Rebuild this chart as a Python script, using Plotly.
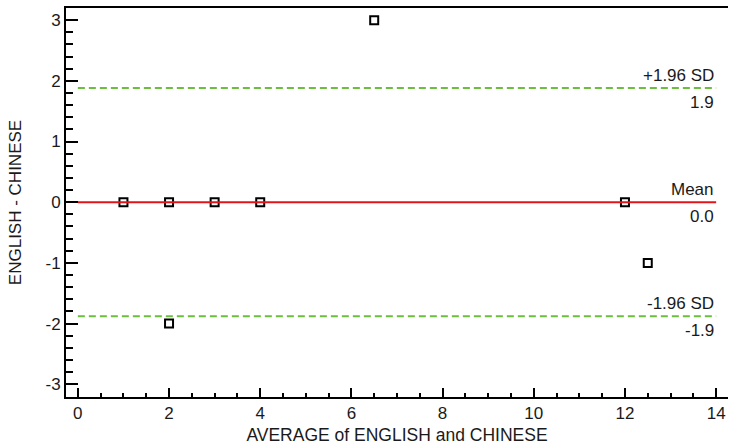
import plotly.graph_objects as go

avg = [1, 2, 3, 4, 2, 6.5, 12, 12.5]
diff = [0, 0, 0, 0, -2, 3, 0, -1]
mean_diff = 0.0
upper = 1.88
lower = -1.88
x_line = [0, 14]
y_tick_vals = [-3, -2, -1, 0, 1, 2, 3]
y_tick_text = ["-3", "-2", "-1", "0", "1", "2", "3"]
x_tick_vals = [0, 2, 4, 6, 8, 10, 12, 14]

fig = go.Figure()
fig.add_trace(go.Scatter(x=avg, y=diff, mode="markers",
                         marker=dict(symbol="square", size=8, color="white",
                                     line=dict(color="black", width=2)),
                         showlegend=False, cliponaxis=False))
fig.add_trace(go.Scatter(x=x_line, y=[mean_diff, mean_diff], mode="lines",
                         line=dict(color="#e3141c", width=2), showlegend=False))
fig.add_trace(go.Scatter(x=x_line, y=[upper, upper], mode="lines",
                         line=dict(color="#6cbf3c", width=2, dash="7px,4px"), showlegend=False))
fig.add_trace(go.Scatter(x=x_line, y=[lower, lower], mode="lines",
                         line=dict(color="#6cbf3c", width=2, dash="7px,4px"), showlegend=False))

font = "Liberation Sans, Arial, sans-serif"
ann = [("+1.96 SD", upper, "bottom"), ("1.9", upper, "top"),
       ("Mean", mean_diff, "bottom"), ("0.0", mean_diff, "top"),
       ("-1.96 SD", lower, "bottom"), ("-1.9", lower, "top")]
for text, yv, anc in ann:
    fig.add_annotation(x=14, y=yv, text=text, showarrow=False, xanchor="right",
                       yanchor=anc, yshift=1 if anc == "bottom" else -3,
                       font=dict(family=font, size=17, color="#1a1a1a"))

fig.update_layout(
    width=729, height=445,
    margin=dict(l=66, r=1, t=8, b=48),
    plot_bgcolor="white", paper_bgcolor="white",
    font=dict(family=font, color="#1a1a1a"),
)
fig.update_xaxes(range=[-0.26, 14.26], showgrid=False, zeroline=False,
                 showline=True, linecolor="black", linewidth=2, mirror=True,
                 ticks="inside", tickmode="array", tickvals=x_tick_vals,
                 ticklen=9, tickwidth=2, tickcolor="black",
                 minor=dict(ticks="inside", tickmode="linear", tick0=0, dtick=0.5,
                            ticklen=4, tickwidth=1.5, tickcolor="black"),
                 tickfont=dict(size=17),
                 title=dict(text="AVERAGE of ENGLISH and CHINESE", font=dict(size=17.5), standoff=6))
fig.update_yaxes(range=[-3.21, 3.2], showgrid=False, zeroline=False,
                 showline=True, linecolor="black", linewidth=2,
                 ticks="inside", tickmode="array", tickvals=y_tick_vals, ticktext=y_tick_text,
                 ticklen=12, tickwidth=2, tickcolor="black",
                 minor=dict(ticks="inside", tickmode="linear", tick0=0, dtick=0.2,
                            ticklen=7, tickwidth=1.5, tickcolor="black"),
                 tickfont=dict(size=17),
                 title=dict(text="ENGLISH - CHINESE", font=dict(size=17), standoff=20))

fig.write_html("out.html", config={"displayModeBar": False},
               post_script="document.body.style.margin='0';")
